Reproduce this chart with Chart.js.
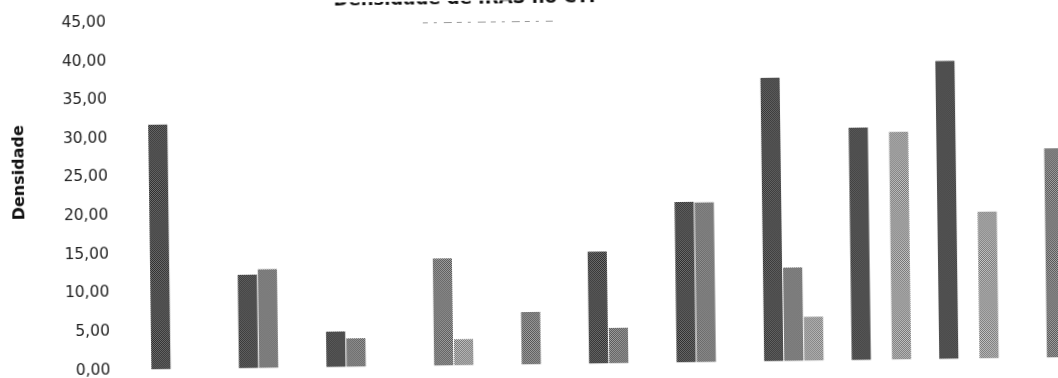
<!DOCTYPE html>
<html>
<head>
<meta charset="utf-8">
<script src="https://cdn.jsdelivr.net/npm/chart.js@4.4.1/dist/chart.umd.min.js"></script>
<style>
  html, body { margin: 0; padding: 0; background: #fff; overflow: hidden; width: 1058px; height: 378px; }
  /* the scanned original is tilted a little, so the whole chart is too */
  #wrap { position: absolute; left: 0; top: 0; width: 1098px; height: 378px; transform: rotate(-0.76deg); transform-origin: 529px 189px; }
</style>
</head>
<body>
<div id="wrap"><canvas id="chart" width="1098" height="378"></canvas></div>
<script>
const categories = ["Jan", "Fev", "Mar", "Abr", "Mai", "Jun", "Jul", "Ago", "Set", "Out", "Nov"]
const ipcs = [31.7, 12.1, 4.6, null, null, 14.5, 20.8, 36.7, 30.1, 38.6, null]
const pav = [null, 12.8, 3.7, 13.9, 6.8, 4.6, 20.7, 12.1, null, null, 27.1]
const itu = [null, null, null, 3.4, null, null, null, 5.7, 29.5, 19.0, null]
const yTicks = [0, 5, 10, 15, 20, 25, 30, 35, 40, 45]

const chartTitle = "Densidade de IRAS no CTI"
const yTitle = "Densidade"

// small checker pattern to get the grainy look of the scan
function stipple(dark, light) {
  const c = document.createElement("canvas")
  c.width = 2
  c.height = 2
  const ctx = c.getContext("2d")
  ctx.fillStyle = light
  ctx.fillRect(0, 0, 2, 2)
  ctx.fillStyle = dark
  ctx.fillRect(0, 0, 1, 1)
  ctx.fillRect(1, 1, 1, 1)
  return ctx.createPattern(c, "repeat")
}

const texts = {
  id: "texts",
  afterDraw(chart) {
    const ctx = chart.ctx
    ctx.save()
    ctx.fillStyle = "#111"
    ctx.font = "bold 18px 'DejaVu Sans'"
    ctx.textAlign = "center"
    ctx.textBaseline = "alphabetic"
    ctx.fillText(chartTitle, 467, 2.5)

    ctx.strokeStyle = "#999"
    ctx.lineWidth = 1
    ctx.setLineDash([5, 6, 3, 7, 8, 5])
    ctx.beginPath()
    ctx.moveTo(425, 21.5)
    ctx.lineTo(555, 21.5)
    ctx.stroke()
    ctx.setLineDash([])

    ctx.translate(19.5, 166)
    ctx.rotate(-Math.PI / 2)
    ctx.font = "bold 16px 'DejaVu Sans'"
    ctx.textBaseline = "middle"
    ctx.fillStyle = "#111"
    ctx.fillText(yTitle, 0, 0)
    ctx.restore()
  },
}

const barOpts = { categoryPercentage: 0.69, barPercentage: 0.95, borderWidth: 0 }

new Chart(document.getElementById("chart"), {
  type: "bar",
  data: {
    labels: categories,
    datasets: [
      { label: "IPCS", data: ipcs, backgroundColor: stipple("#2a2a2a", "#747474"), ...barOpts },
      { label: "PAV", data: pav, backgroundColor: stipple("#505050", "#a8a8a8"), ...barOpts },
      { label: "ITU", data: itu, backgroundColor: stipple("#707070", "#c8c8c8"), ...barOpts },
    ],
  },
  options: {
    responsive: false,
    animation: false,
    layout: { padding: { top: 17, bottom: 13.5, left: 0, right: 0 } },
    plugins: { legend: { display: false }, tooltip: { enabled: false } },
    scales: {
      x: { display: false },
      y: {
        min: yTicks[0],
        max: yTicks[yTicks.length - 1],
        afterBuildTicks: (scale) => { scale.ticks = yTicks.map(v => ({ value: v })) },
        afterFit: (scale) => {
          scale.width = 135
          scale.paddingTop = 0
          scale.paddingBottom = 0
        },
        grid: { display: false },
        border: { display: false },
        ticks: {
          padding: 19,
          color: "#222",
          font: { family: "DejaVu Sans", size: 15.5 },
          callback: (v) => v.toFixed(2).replace(".", ","),
        },
      },
    },
  },
  plugins: [texts],
})
</script>
</body>
</html>
